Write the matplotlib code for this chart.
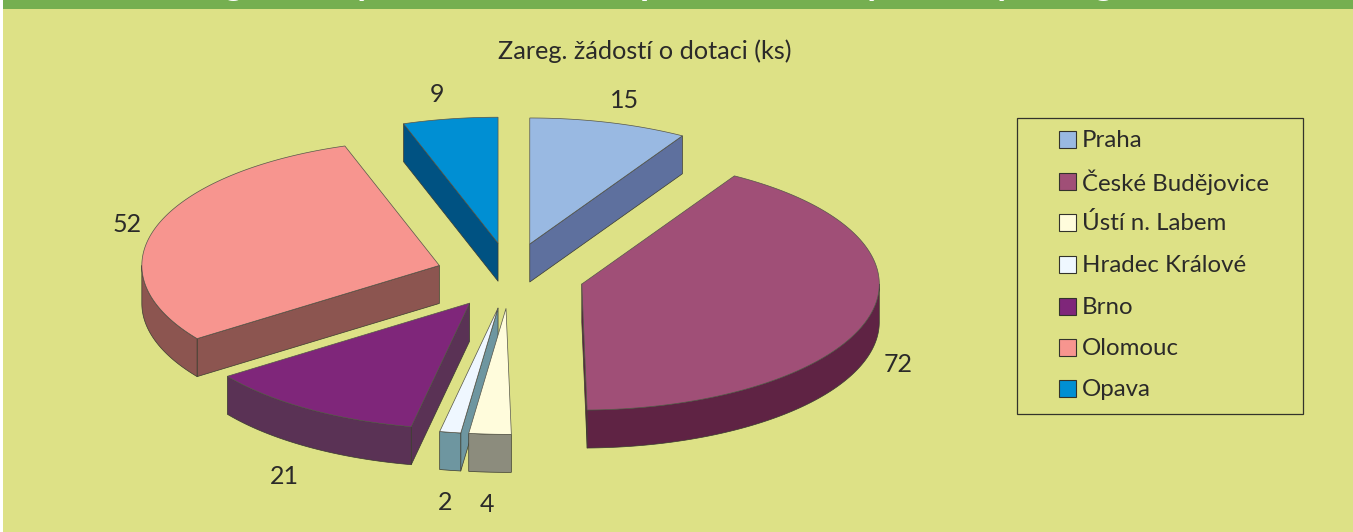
import numpy as np
import matplotlib
matplotlib.use("Agg")
import matplotlib.pyplot as plt
from matplotlib.patches import Polygon, Rectangle

plt.rcParams['font.family'] = ['Lato', 'DejaVu Sans']

categories = ['Praha', 'České Budějovice', 'Ústí n. Labem', 'Hradec Králové', 'Brno', 'Olomouc', 'Opava']
values = [15, 72, 4, 2, 21, 52, 9]
top_colors = ['#99B9E2', '#A04F77', '#FFFCDC', '#EFF7FF', '#7F267A', '#F7958F', '#008FD3']
side_colors = ['#5E709E', '#5F2344', '#8C8C7D', '#6E96A0', '#5A3255', '#8C5550', '#005282']
label_xy = [(625, 101), (898, 365), (487, 504), (445, 502), (284, 477), (127, 224), (437, 94)]
title_text = 'Zareg. žádostí o dotaci (ks)'
band_letters = [(233, 'g'), (365, 'y'), (650, 'p'), (875, 'y'), (1005, 'y'), (1103, 'g')]

W, H = 1353, 532
BG, BAND, INK, EDGE = '#DDE186', '#75AF50', '#2B2A29', '#3A3A30'
cx, cy, rx, ry = 510.0, 275.6, 297.5, 126.0
ex, ey, depth = 74.3, 32.8, 38.0

fig = plt.figure(figsize=(W / 100, H / 100), dpi=100, facecolor='white')
ax = fig.add_axes([0, 0, 1, 1])
ax.set_xlim(0, W)
ax.set_ylim(H, 0)
ax.axis('off')

ax.add_patch(Rectangle((3, 0), W - 3, H, fc=BG, ec='none', zorder=0))
ax.add_patch(Rectangle((3, 0), W - 3, 8.7, fc=BAND, ec='none', zorder=1))
for x, ch in band_letters:
    ax.text(x, -5.0, ch, color='white', fontsize=27, fontweight='bold', ha='center',
            va='baseline', zorder=2)

total = sum(values)
edges = np.cumsum([0] + values) / total * 2 * np.pi


def pt(apex, a):
    return apex + np.array([rx * np.sin(a), -ry * np.cos(a)])


def outer(apex, a0, a1):
    t = np.linspace(a0, a1, max(int((a1 - a0) * 80), 2))
    return np.column_stack([apex[0] + rx * np.sin(t), apex[1] - ry * np.cos(t)])


down = np.array([0, depth])
order = sorted(range(len(values)), key=lambda i: -np.cos((edges[i] + edges[i + 1]) / 2))
for z, i in enumerate(order):
    a0, a1 = edges[i], edges[i + 1]
    m = (a0 + a1) / 2
    apex = np.array([cx + ex * np.sin(m), cy - ey * np.cos(m)])
    zb = 10 + z * 3
    style = dict(fc=side_colors[i], ec=EDGE, lw=0.5, joinstyle='round')
    for a, sign in ((a0, -1), (a1, 1)):
        n = np.array([np.cos(a) * sign * ry, np.sin(a) * sign * rx])
        if n[1] > 0:
            p = pt(apex, a)
            ax.add_patch(Polygon([apex, p, p + down, apex + down], zorder=zb, **style))
    lo, hi = max(a0, np.pi / 2), min(a1, 3 * np.pi / 2)
    if hi > lo:
        arc = outer(apex, lo, hi)
        ax.add_patch(Polygon(np.vstack([arc, (arc + down)[::-1]]), zorder=zb + 1, **style))
    top = np.vstack([apex, outer(apex, a0, a1)])
    ax.add_patch(Polygon(top, fc=top_colors[i], ec='#55554A', lw=0.5, zorder=zb + 2))

for (x, y), v in zip(label_xy, values):
    ax.text(x, y, str(v), color=INK, fontsize=18, ha='center', va='center', zorder=50)

ax.text(644.5, 51, title_text, color=INK, fontsize=18.2, ha='center', va='center', zorder=50)

ax.add_patch(Rectangle((1017, 117.5), 286, 296, fc='none', ec='#33332B', lw=0.9, zorder=50))
leg_y = [139, 181, 222, 264, 306, 347, 388]
for name, col, y in zip(categories, top_colors, leg_y):
    ax.add_patch(Rectangle((1058.5, y - 8), 17.5, 16.5, fc=col, ec='#33332B', lw=0.8, zorder=50))
    ax.text(1082, y + 1.5, name, color=INK, fontsize=17.3, ha='left', va='center', zorder=50)

fig.savefig('out.png', dpi=100, facecolor='white')
